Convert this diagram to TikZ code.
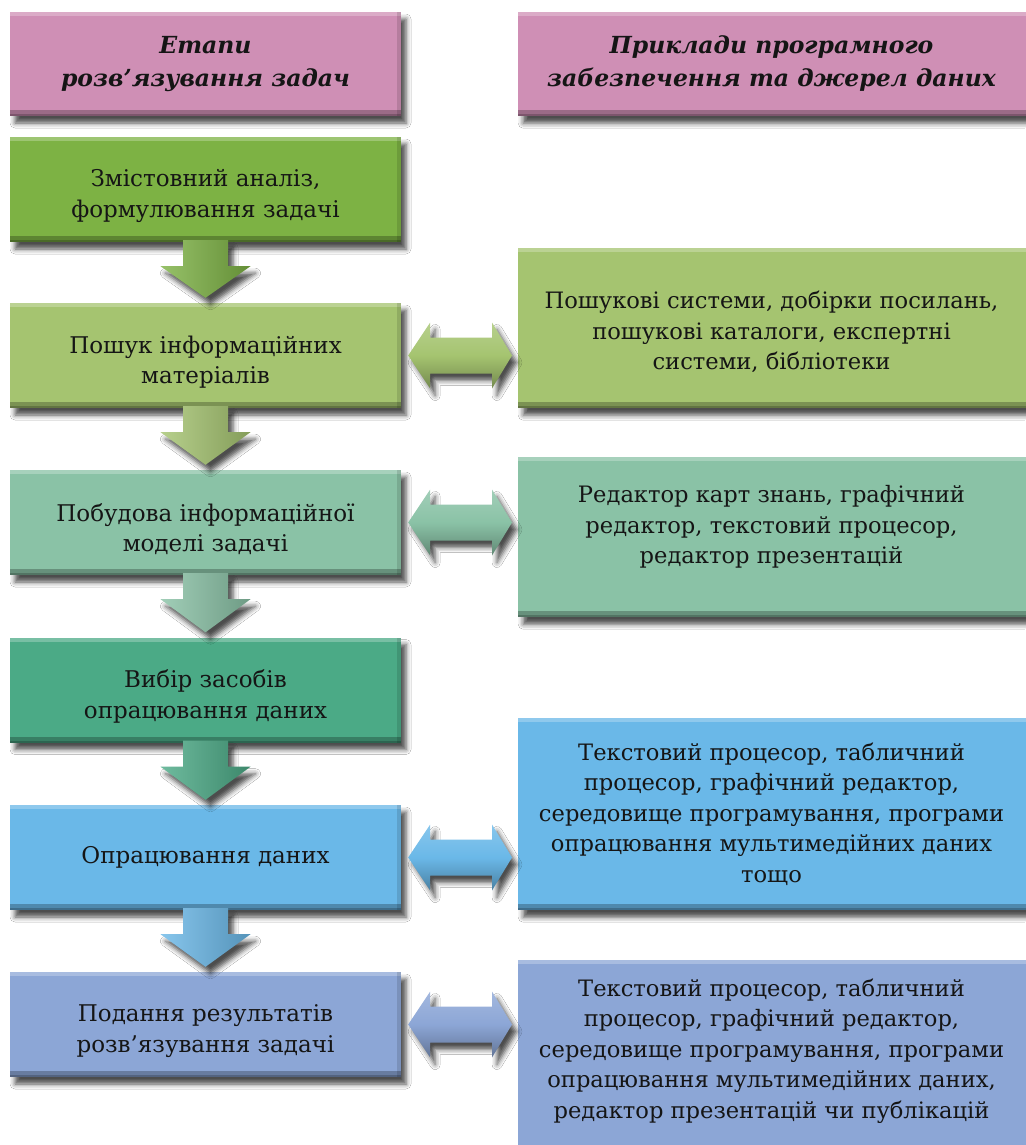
\documentclass[tikz,border=0pt]{standalone}
\usepackage{fontspec}
\setmainfont{DejaVu Serif}
\usetikzlibrary{calc,shadows.blur}
\definecolor{cHead}{HTML}{CF8FB5}
\definecolor{cA}{HTML}{7DB244}
\definecolor{cB}{HTML}{A5C470}
\definecolor{cC}{HTML}{8AC2A6}
\definecolor{cD}{HTML}{4BAA86}
\definecolor{cE}{HTML}{6AB8E8}
\definecolor{cF}{HTML}{8CA6D6}
\definecolor{ink}{HTML}{151515}
\tikzset{
  bevel/.style={path picture={
    \fill[white,opacity=.25] (path picture bounding box.north west) rectangle ([yshift=-4pt]path picture bounding box.north east);
    \fill[black,opacity=.12] ([xshift=-4pt]path picture bounding box.north east) rectangle (path picture bounding box.south east);
    \fill[black,opacity=.25] ([yshift=6pt]path picture bounding box.south west) rectangle (path picture bounding box.south east);
    \fill[black,opacity=.2] ([yshift=2pt]path picture bounding box.south west) rectangle (path picture bounding box.south east);
  }},
  softshadow/.style={blur shadow={shadow xshift=5pt, shadow yshift=-7pt, shadow blur radius=5pt, shadow opacity=70}},
  box/.style={fill=#1, draw=none, inner sep=0pt, softshadow, bevel},
  lbox/.style={box=#1, minimum width=391pt, minimum height=105pt},
  rbox/.style={box=#1, minimum width=512pt, anchor=north west},
  ltext/.style={align=center, text=ink, font=\fontsize{23}{30.5}\selectfont},
  rtext/.style={align=center, text=ink, font=\fontsize{22.6}{30.5}\selectfont},
  headtext/.style={align=center, text=ink, font=\fontsize{23.5}{33}\selectfont\bfseries\itshape},
  downarr/.style={left color=#1!80!white, right color=#1!80!black, softshadow},
  dblarr/.style={top color=#1!80!white, bottom color=#1!70!black, middle color=#1, softshadow},
}
\begin{document}
\begin{tikzpicture}[x=1pt,y=-1pt]
\useasboundingbox (0,0) rectangle (1025,1145);
\fill[white] (0,0) rectangle (1025,1145);

% left column
\node[lbox=cHead, minimum height=104pt] (lh) at (205.5,64) {};
\node[headtext] (lht) at (205.5,64) {Етапи\\розв’язування задач};
\node[lbox=cA] (b1) at (205.5,189.5) {};
\node[ltext] (b1t) at (205.5,196) {Змістовний аналіз,\\формулювання задачі};
\node[lbox=cB] (b2) at (205.5,355.5) {};
\node[ltext] (b2t) at (205.5,362) {Пошук інформаційних\\матеріалів};
\node[lbox=cC] (b3) at (205.5,522.5) {};
\node[ltext] (b3t) at (205.5,529) {Побудова інформаційної\\моделі задачі};
\node[lbox=cD] (b4) at (205.5,690) {};
\node[ltext] (b4t) at (205.5,696.5) {Вибір засобів\\опрацювання даних};
\node[lbox=cE] (b5) at (205.5,857.5) {};
\node[ltext] (b5t) at (205.5,857.5) {Опрацювання даних};
\node[lbox=cF] (b6) at (205.5,1024.5) {};
\node[ltext] (b6t) at (205.5,1031) {Подання результатів\\розв’язування задачі};

% right column
\node[rbox=cHead, minimum height=104pt] (rh) at (518,12) {};
\node[headtext] (rht) at (771.5,64) {Приклади програмного\\забезпечення та джерел даних};
\node[rbox=cB, minimum height=160pt] (r2) at (518,248) {};
\node[rtext] (r2t) at (771.5,332) {Пошукові системи, добірки посилань,\\пошукові каталоги, експертні\\системи, бібліотеки};
\node[rbox=cC, minimum height=160pt] (r3) at (518,457) {};
\node[rtext] (r3t) at (771.5,527) {Редактор карт знань, графічний\\редактор, текстовий процесор,\\редактор презентацій};
\node[rbox=cE, minimum height=192pt] (r5) at (518,718) {};
\node[rtext] (r5t) at (771.5,814) {Текстовий процесор, табличний\\процесор, графічний редактор,\\середовище програмування, програми\\опрацювання мультимедійних даних\\тощо};
\node[rbox=cF, minimum height=200pt] (r6) at (518,960) {};
\node[rtext] (r6t) at (771.5,1051) {Текстовий процесор, табличний\\процесор, графічний редактор,\\середовище програмування, програми\\опрацювання мультимедійних даних,\\редактор презентацій чи публікацій};

% down arrows
\foreach \top/\bot/\col in {b1/b2/cA, b2/b3/cB, b3/b4/cC, b4/b5/cD, b5/b6/cE}{
  \shade[downarr=\col] ([xshift=-22.5pt,yshift=2pt]\top.south) -- ([xshift=-22.5pt,yshift=-24pt]\top.south)
    -- ([xshift=-45pt,yshift=-24pt]\top.south) -- ([yshift=5pt]\bot.north)
    -- ([xshift=45pt,yshift=-24pt]\top.south) -- ([xshift=22.5pt,yshift=-24pt]\top.south)
    -- ([xshift=22.5pt,yshift=2pt]\top.south) -- cycle;
}

% double arrows
\foreach \lft/\rgt/\col in {b2/r2/cB, b3/r3/cC, b5/r5/cE, b6/r6/cF}{
  \coordinate (L) at ([xshift=7pt]\lft.east);
  \coordinate (R) at ($(\rgt.west |- \lft.east)+(-6,0)$);
  \shade[dblarr=\col] (L) -- ($(L)+(22,-33)$) -- ($(L)+(22,-18)$) -- ($(R)+(-20,-18)$) -- ($(R)+(-20,-33)$)
    -- (R) -- ($(R)+(-20,33)$) -- ($(R)+(-20,18)$) -- ($(L)+(22,18)$) -- ($(L)+(22,33)$) -- cycle;
}
\end{tikzpicture}
\end{document}
